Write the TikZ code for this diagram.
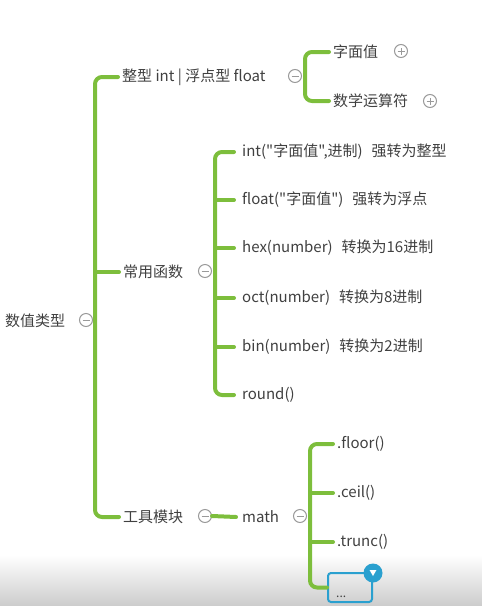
\documentclass[tikz,border=0pt]{standalone}
\usepackage{fontspec}
\setmainfont{Noto Sans CJK SC}[Ligatures=TeXOff]
\usetikzlibrary{shapes.geometric}
\definecolor{brg}{HTML}{7DBE3C}
\definecolor{txt}{HTML}{404040}
\definecolor{tgl}{HTML}{9A9A9A}
\definecolor{sel}{HTML}{2AA0CF}
\begin{document}
\begin{tikzpicture}[x=1pt,y=-1pt,
  br/.style={draw=brg,line width=4pt,rounded corners=7pt,line cap=round},
  lbl/.style={anchor=west,inner sep=2pt,text=txt,font=\fontsize{15}{18}\selectfont},
  tog/.style={circle,draw=tgl,line width=1pt,minimum size=13pt,inner sep=0pt,fill=white},
  minus/.style={tog,path picture={\draw[tgl,line width=1pt] (-3.5pt,0)--(3.5pt,0);}},
  plus/.style={tog,path picture={\draw[tgl,line width=1pt] (-3.5pt,0)--(3.5pt,0) (0,-3.5pt)--(0,3.5pt);}}
]
\useasboundingbox (0,0) rectangle (482,606);
\shade[top color=white,bottom color=black!20] (0,555) rectangle (482,606);

% root
\node[lbl] (root) at (3,321) {数值类型};
\node[minus] (m0) at (86,320) {};
\coordinate (j0) at (95,320);

% level 1
\node[lbl] (t1) at (120,77) {整型 int | 浮点型 float};
\node[lbl] (t2) at (121,272) {常用函数};
\node[lbl] (t3) at (121,517) {工具模块};
\node[minus] (m1) at (295,76) {};
\node[minus] (m2) at (205,271) {};
\node[minus] (m3) at (205,516) {};

\draw[br] ([xshift=-2pt]t1.west) -| (j0) |- ([xshift=-2pt]t3.west);
\draw[br] ([xshift=-2pt]t2.west) -- (j0 |- t2.west);

% float subtree
\coordinate (j1) at (305,76);
\node[lbl] (c11) at (331,52) {字面值};
\node[lbl] (c12) at (331,101) {数学运算符};
\node[plus] (p11) at (401,51) {};
\node[plus] (p12) at (430,101) {};
\draw[br] ([xshift=-2pt]c11.west) -| (j1) |- ([xshift=-2pt]c12.west);

% functions subtree
\coordinate (j2) at (215,271);
\node[lbl] (c21) at (240,152) {int("字面值",进制)\hspace{0.6em}强转为整型};
\node[lbl] (c22) at (240,200) {float("字面值")\hspace{0.6em}强转为浮点};
\node[lbl] (c23) at (240,248) {hex(number)\hspace{0.6em}转换为16进制};
\node[lbl] (c24) at (240,298) {oct(number)\hspace{0.6em}转换为8进制};
\node[lbl] (c25) at (240,347) {bin(number)\hspace{0.6em}转换为2进制};
\node[lbl] (c26) at (240,395) {round()};
\draw[br] ([xshift=-6pt]c21.west) -| (j2) |- ([xshift=-6pt]c26.west);
\foreach \c in {c22,c23,c24,c25}{
  \draw[br] ([xshift=-6pt]\c.west) -- (j2 |- \c.west);
}

% math subtree
\node[lbl] (mth) at (240,517) {math};
\draw[br] (m3.east) -- ([xshift=-4pt]mth.west);
\node[minus] (m4) at (300,516) {};
\coordinate (j3) at (310,516);
\node[lbl] (c31) at (335,444) {.floor()};
\node[lbl] (c32) at (335,493) {.ceil()};
\node[lbl] (c33) at (335,542) {.trunc()};
\node[draw=sel,line width=2pt,rounded corners=3pt,minimum width=44pt,minimum height=29pt,
      text=txt,inner sep=0pt] (dots) at (350,587.5) {};
\node[text=txt,anchor=south west,inner sep=0pt,font=\fontsize{12}{14}\selectfont] (dt) at (336,598) {...};
\draw[br] ([xshift=-2pt]c31.west) -| (j3) |- (dots.west);
\foreach \c in {c32,c33}{
  \draw[br] ([xshift=-2pt]\c.west) -- (j3 |- \c.west);
}
\node[circle,fill=sel,minimum size=19pt,inner sep=0pt] (bc) at (373,573) {};
\node[isosceles triangle,isosceles triangle apex angle=60,shape border rotate=-90,fill=white,
      minimum size=6pt,inner sep=0pt] (tri) at ([yshift=1pt]bc.center) {};
\end{tikzpicture}
\end{document}
